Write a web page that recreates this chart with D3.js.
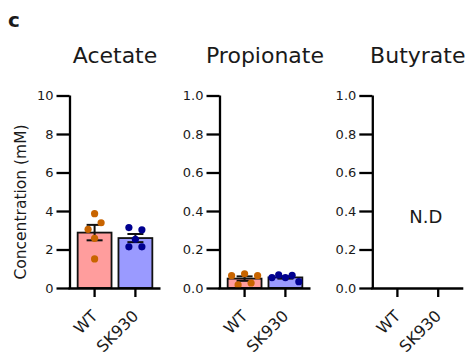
<!DOCTYPE html>
<html lang="en">
<head>
  <title>SCFA concentration</title>
  <meta charset="UTF-8" />
  <script src="https://cdn.jsdelivr.net/npm/d3@7"></script>
  <style>
    body
      {
      margin: 0;
      background-color: #ffffff;
      }
    svg text
      {
      font-family: "DejaVu Sans", sans-serif;
      fill: #1a1a1a;
      }
  </style>
</head>
<body>

<div id="chart"></div>

<script>
const categories = ["WT", "SK930"];

// values (mM), one dot per mouse
const acetateWT = [3.86, 3.05, 3.39, 2.58, 1.51];
const acetateSK930 = [3.14, 3.02, 2.53, 2.14, 2.14];
const propionateWT = [0.064, 0.074, 0.064, 0.016, 0.026];
const propionateSK930 = [0.054, 0.068, 0.054, 0.066, 0.033];

const acetateTicks = [0, 2, 4, 6, 8, 10];
const fractionTicks = [0, 0.2, 0.4, 0.6, 0.8, 1.0];

const panels = [
  { title: "Acetate", x0: 69.5, max: 10, ticks: acetateTicks, fmt: d3.format("d"),
    groups: [acetateWT, acetateSK930] },
  { title: "Propionate", x0: 219.5, max: 1, ticks: fractionTicks, fmt: d3.format(".1f"),
    groups: [propionateWT, propionateSK930] },
  { title: "Butyrate", x0: 372.3, max: 1, ticks: fractionTicks, fmt: d3.format(".1f"),
    groups: null }
];

const W = 468, H = 353;
const plotW = 91, yTop = 95.5, yBottom = 288;
const fills = ["#ff9d9d", "#9a9aff"];
const dotColors = ["#c86400", "#000090"];

const svg = d3.select("#chart")
  .append("svg")
  .attr("width", W)
  .attr("height", H);

svg.append("text")
  .attr("x", 8)
  .attr("y", 27)
  .attr("font-size", 20)
  .attr("font-weight", "bold")
  .text("c");

svg.append("text")
  .attr("text-anchor", "middle")
  .attr("transform", "translate(26,202) rotate(-90)")
  .attr("font-size", 15.5)
  .text("Concentration (mM)");

// spread dots sideways like a scatter-dot plot: rows of close values share a line
function swarm(values, y, bw) {
  const order = values.map((v, i) => i).sort((a, b) => values[b] - values[a]);
  const off = new Array(values.length).fill(0);
  let i = 0;
  while (i < order.length) {
    const start = y(values[order[i]]);
    let row = [order[i]];
    let j = i + 1;
    while (j < order.length && y(values[order[j]]) - start < 7) { row.push(order[j]); j++; }
    row.sort((a, b) => a - b);
    const k = row.length;
    const gap = k > 1 ? Math.min(13, (bw - 7) / (k - 1)) : 0;
    row.forEach((idx, n) => { off[idx] = (n - (k - 1) / 2) * gap; });
    i = j;
  }
  return off;
}

panels.forEach(p => {
  const x = d3.scaleBand()
    .domain(categories)
    .range([p.x0, p.x0 + plotW])
    .paddingInner(0.17)
    .paddingOuter(0.2);

  const y = d3.scaleLinear()
    .domain([0, p.max])
    .range([yBottom, yTop]);

  const g = svg.append("g");

  svg.append("text")
    .attr("x", p.x0 + plotW / 2)
    .attr("y", 62.7)
    .attr("text-anchor", "middle")
    .attr("font-size", 22)
    .text(p.title);

  if (p.groups) {
    const stats = p.groups.map(vals => {
      const m = d3.mean(vals);
      const sem = d3.deviation(vals) / Math.sqrt(vals.length);
      return { m, sem };
    });

    g.selectAll("rect.bar")
      .data(categories)
      .join("rect")
      .attr("class", "bar")
      .attr("x", d => x(d))
      .attr("width", x.bandwidth())
      .attr("y", (d, i) => y(stats[i].m))
      .attr("height", (d, i) => y(0) - y(stats[i].m))
      .attr("fill", (d, i) => fills[i])
      .attr("stroke", "#111")
      .attr("stroke-width", 1.8);

    categories.forEach((c, i) => {
      const cx = x(c) + x.bandwidth() / 2;
      const s = stats[i];
      const eg = g.append("g")
        .attr("stroke", "#111")
        .attr("stroke-width", 2);
      eg.append("line")
        .attr("x1", cx).attr("x2", cx)
        .attr("y1", y(s.m + s.sem)).attr("y2", y(s.m - s.sem));
      [s.m + s.sem, s.m - s.sem].forEach(v => {
        eg.append("line")
          .attr("x1", cx - 8).attr("x2", cx + 8)
          .attr("y1", y(v)).attr("y2", y(v));
      });

      const vals = p.groups[i];
      const off = swarm(vals, y, x.bandwidth());
      g.selectAll(null)
        .data(vals)
        .join("circle")
        .attr("cx", (d, k) => cx + off[k])
        .attr("cy", d => y(d))
        .attr("r", 3.6)
        .attr("fill", dotColors[i]);
    });
  } else {
    svg.append("text")
      .attr("x", (x("WT") + x("SK930") + x.bandwidth()) / 2 + 8)
      .attr("y", 222.7)
      .attr("text-anchor", "middle")
      .attr("font-size", 18)
      .text("N.D");
  }

  const yAxis = svg.append("g")
    .attr("transform", `translate(${p.x0},0)`)
    .call(d3.axisLeft(y).tickValues(p.ticks).tickFormat(p.fmt).tickSize(13).tickPadding(3).tickSizeOuter(0));

  const xAxis = svg.append("g")
    .attr("transform", `translate(0,${yBottom})`)
    .call(d3.axisBottom(x).tickSize(9).tickSizeOuter(0).tickFormat(""));

  [yAxis, xAxis].forEach(a => {
    a.select(".domain").attr("stroke", "#000").attr("stroke-width", 2.3);
    a.selectAll(".tick line").attr("stroke", "#000").attr("stroke-width", 2.3);
  });
  yAxis.select(".domain").attr("d", `M0.5,${yBottom}V${yTop}`);
  xAxis.select(".domain").attr("d", `M${p.x0 - 1},0.5H${p.x0 + plotW}`);
  yAxis.selectAll(".tick text")
    .attr("font-size", 13)
    .attr("font-family", "DejaVu Sans, sans-serif")
    .attr("fill", "#1a1a1a");

  svg.append("g")
    .selectAll("text")
    .data(categories)
    .join("text")
    .attr("text-anchor", "end")
    .attr("font-size", 16)
    .attr("transform", d => `translate(${x(d) + x.bandwidth() / 2 + 4},${yBottom + 29}) rotate(-45)`)
    .text(d => d);
});
</script>
</body>
</html>
